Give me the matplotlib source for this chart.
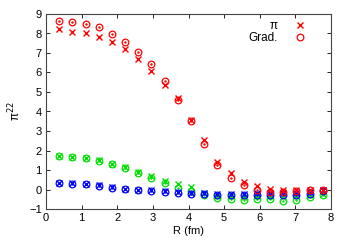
import matplotlib
matplotlib.use("Agg")
import matplotlib.pyplot as plt

plt.rcParams['font.family'] = ['Liberation Sans', 'DejaVu Sans']

R = [0.37, 0.74, 1.11, 1.48, 1.85, 2.22, 2.59, 2.96, 3.33, 3.70, 4.07,
     4.44, 4.81, 5.18, 5.55, 5.92, 6.29, 6.66, 7.03, 7.40, 7.77]

red_pi = [8.21, 8.08, 8.03, 7.84, 7.56, 7.19, 6.71, 6.09, 5.38, 4.70, 3.58,
          2.55, 1.43, 0.83, 0.40, 0.16, 0.05, 0.00, -0.03, -0.03, -0.03]
red_grad = [8.66, 8.61, 8.50, 8.32, 7.99, 7.58, 7.07, 6.42, 5.58, 4.60, 3.53,
            2.35, 1.26, 0.60, 0.23, -0.03, -0.12, -0.12, -0.08, -0.05, -0.05]

green_pi = [1.72, 1.69, 1.64, 1.50, 1.32, 1.14, 0.90, 0.70, 0.46, 0.29, 0.12,
            -0.18, -0.33, -0.35, -0.38, -0.35, -0.33, -0.38, -0.35, -0.28, -0.22]
green_grad = [1.70, 1.66, 1.62, 1.48, 1.30, 1.10, 0.86, 0.57, 0.34, 0.08, -0.09,
              -0.28, -0.46, -0.51, -0.55, -0.51, -0.50, -0.60, -0.55, -0.40, -0.30]

blue_pi = [0.34, 0.32, 0.28, 0.21, 0.12, 0.05, -0.01, -0.05, -0.10, -0.15, -0.17,
           -0.18, -0.22, -0.22, -0.22, -0.20, -0.18, -0.20, -0.20, -0.14, -0.03]
blue_grad = [0.31, 0.29, 0.26, 0.18, 0.09, 0.01, -0.04, -0.07, -0.12, -0.18, -0.21,
             -0.24, -0.30, -0.30, -0.30, -0.28, -0.26, -0.30, -0.30, -0.22, -0.09]

RED = '#ff0000'
GREEN = '#00e000'
BLUE = '#0000ff'

fig = plt.figure(figsize=(3.5, 2.45), dpi=100)
ax = fig.add_axes([46/350, 1-209/245, (331-46)/350, (209-14)/245])

ms = 4.2
for ys_pi, ys_g, c, lab in [(green_pi, green_grad, GREEN, False),
                            (blue_pi, blue_grad, BLUE, False),
                            (red_pi, red_grad, RED, True)]:
    ax.plot(R, ys_pi, linestyle='none', marker='x', ms=ms, mew=1.0, color=c,
            label=('π' if lab else None))
    ax.plot(R, ys_g, linestyle='none', marker='o', ms=ms + 0.6, mew=0.9, mfc='none', color=c,
            label=('Grad.' if lab else None))
    ax.plot(R, ys_g, linestyle='none', marker='.', ms=1.5, color=c)

ax.set_xlim(0, 8)
ax.set_ylim(-1, 9)
ax.set_xticks(range(0, 9))
ax.set_yticks(range(-1, 10))
ax.tick_params(direction='in', top=True, right=True, labelsize=8, length=3, width=0.6, pad=3)
for s in ax.spines.values():
    s.set_linewidth(0.8)
    s.set_color('#444444')

ax.set_xlabel('R (fm)', fontsize=8, labelpad=2)
ax.set_ylabel('π$^{22}$', fontsize=8.5, labelpad=4)

leg = ax.legend(loc='upper right', bbox_to_anchor=(0.932, 1.0), frameon=False, fontsize=8.5,
                markerfirst=False, handlelength=1.0, handletextpad=1.4, borderpad=0.2,
                labelspacing=0.0, borderaxespad=0.3)
for t in leg.get_texts():
    t.set_ha('right')

fig.savefig('out.png', dpi=100)
